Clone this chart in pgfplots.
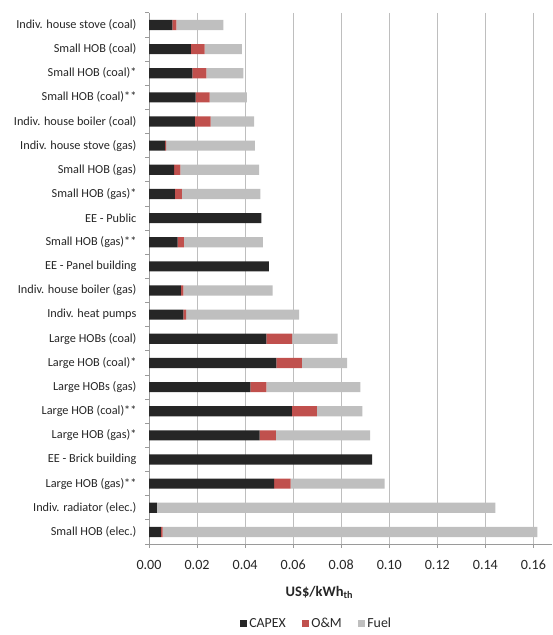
\documentclass[border=0pt]{standalone}
\usepackage{pgfplots}
\pgfplotsset{compat=1.18}
\usepackage{pgfplotstable}
\usepackage{fontspec}
\setmainfont{Carlito}

\definecolor{capex}{HTML}{262626}
\definecolor{om}{HTML}{C0504D}
\definecolor{fuel}{HTML}{BFBFBF}
\definecolor{gridc}{HTML}{BEBEBE}
\definecolor{axisc}{HTML}{9A9A9A}
\definecolor{txt}{HTML}{262626}

% levelized cost of heat, US$/kWh_th, split into CAPEX, O&M and fuel
\pgfplotstableread[col sep=comma]{
row,capex,om,fuel
0,0.0097,0.0017,0.0195
1,0.0174,0.0057,0.0155
2,0.0180,0.0059,0.0154
3,0.0194,0.0058,0.0155
4,0.0191,0.0065,0.0182
5,0.0067,0.0004,0.0370
6,0.0105,0.0025,0.0328
7,0.0108,0.0029,0.0327
8,0.0468,0,0
9,0.0119,0.0026,0.0329
10,0.0499,0,0
11,0.0133,0.0010,0.0371
12,0.0143,0.0011,0.0471
13,0.0489,0.0107,0.0189
14,0.0530,0.0106,0.0189
15,0.0422,0.0067,0.0391
16,0.0595,0.0104,0.0189
17,0.0460,0.0068,0.0392
18,0.0929,0,0
19,0.0521,0.0068,0.0392
20,0.0033,0,0.1409
21,0.0049,0.0008,0.1559
}\lcoh

\begin{document}
\begin{tikzpicture}
\begin{axis}[
  name=ax,
  scale only axis,
  width=305.5pt, height=402.75pt,
  xbar stacked,
  bar width=0.42,
  y dir=reverse,
  ymin=-0.5, ymax=21.5,
  xmin=0, xmax=0.1677,
  axis x line*=bottom,
  axis y line*=left,
  axis line style={axisc, line width=0.6pt},
  xtick={0,0.02,...,0.16},
  minor xtick={0,0.02,...,0.16},
  ytick={0,...,21},
  minor ytick={-0.5,0.5,...,21.5},
  major tick length=0pt,
  minor tick length=3pt,
  tick align=outside,
  tick style={axisc, line width=0.6pt},
  xmajorgrids,
  major grid style={gridc, line width=0.7pt},
  yticklabels={
    Indiv. house stove (coal),
    Small HOB (coal),
    Small HOB (coal)*,
    Small HOB (coal)**,
    Indiv. house boiler (coal),
    Indiv. house stove (gas),
    Small HOB (gas),
    Small HOB (gas)*,
    EE - Public,
    Small HOB (gas)**,
    EE - Panel building,
    Indiv. house boiler (gas),
    Indiv. heat pumps,
    Large HOBs (coal),
    Large HOB (coal)*,
    Large HOBs (gas),
    Large HOB (coal)**,
    Large HOB (gas)*,
    EE - Brick building,
    Large HOB (gas)**,
    Indiv. radiator (elec.),
    Small HOB (elec.)},
  yticklabel style={font=\fontsize{9.3}{11}\selectfont, text=txt, xshift=-6pt},
  /pgf/number format/assume math mode=true,
  xticklabel style={font=\fontsize{10.7}{12}\selectfont, text=txt,
    /pgf/number format/fixed, /pgf/number format/fixed zerofill,
    /pgf/number format/precision=2, yshift=-8.5pt},
  scaled x ticks=false,
  xlabel={\textbf{US\$/kWh\textsubscript{th}}},
  xlabel style={font=\fontsize{11}{13}\selectfont, text=txt,
    at={(0.423,-0.0912)}, anchor=center},
  legend columns=3,
  legend style={draw=none, fill=none, at={(0.416,-0.1505)}, anchor=center,
    font=\fontsize{10.5}{12}\selectfont, text=txt,
    /tikz/every even column/.append style={column sep=10pt}},
  legend image code/.code={\fill[#1,draw=none] (0pt,-2.7pt) rectangle (5.4pt,2.7pt);},
]
\addplot[fill=capex, draw=none] table[x=capex, y=row] {\lcoh};
\addplot[fill=om, draw=none] table[x=om, y=row] {\lcoh};
\addplot[fill=fuel, draw=none] table[x=fuel, y=row] {\lcoh};
\legend{CAPEX, O\&M, Fuel}
\end{axis}
\path ([xshift=-113pt, yshift=-63.75pt]ax.south west) rectangle ([yshift=9.75pt]ax.north east);
\end{tikzpicture}
\end{document}
